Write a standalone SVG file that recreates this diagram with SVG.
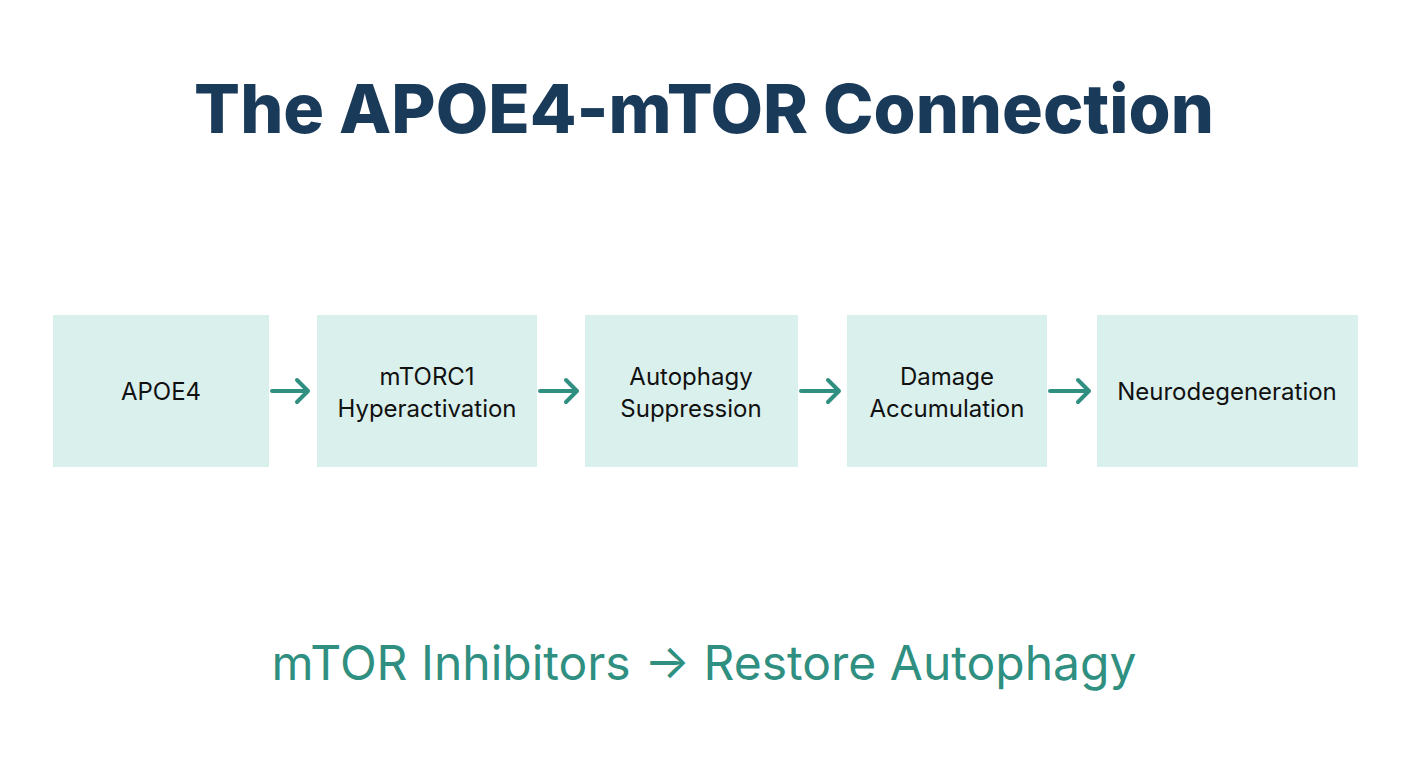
<svg xmlns="http://www.w3.org/2000/svg" width="1408" height="768" viewBox="0 0 1408 768">
<style>
.box{fill:#daf0ec}
.t{font-family:Inter,"Liberation Sans",sans-serif;font-size:24px;fill:#111;text-anchor:middle}
.c path{stroke:#2f8f80;stroke-width:4;fill:none;stroke-linecap:round;stroke-linejoin:round}
</style>
<rect width="1408" height="768" fill="#fff"/>
<text x="704" y="133" font-family="Inter,'Liberation Sans',sans-serif" font-weight="800" font-size="68" fill="#1a3a5a" text-anchor="middle">The APOE4-mTOR Connection</text>
<g id="n1"><rect class="box" x="53" y="315" width="216" height="152"/><text class="t" x="161" y="400">APOE4</text></g>
<g id="n2"><rect class="box" x="317" y="315" width="220" height="152"/><text class="t" x="427" y="385">mTORC1</text><text class="t" x="427" y="417">Hyperactivation</text></g>
<g id="n3"><rect class="box" x="585" y="315" width="213" height="152"/><text class="t" x="691" y="385">Autophagy</text><text class="t" x="691" y="417">Suppression</text></g>
<g id="n4"><rect class="box" x="847" y="315" width="200" height="152"/><text class="t" x="947" y="385">Damage</text><text class="t" x="947" y="417">Accumulation</text></g>
<g id="n5"><rect class="box" x="1097" y="315" width="261" height="152"/><text class="t" x="1227" y="400">Neurodegeneration</text></g>
<g class="c" id="connectors">
<path d="M272 391H308M297 380L308 391L297 402"/>
<path d="M540 391H577M566 380L577 391L566 402"/>
<path d="M801 391H839M828 380L839 391L828 402"/>
<path d="M1050 391H1089M1078 380L1089 391L1078 402"/>
</g>
<text x="704" y="680" font-family="Inter,'Liberation Sans',sans-serif" font-size="48" fill="#2f8f80" text-anchor="middle">mTOR Inhibitors → Restore Autophagy</text>
</svg>
